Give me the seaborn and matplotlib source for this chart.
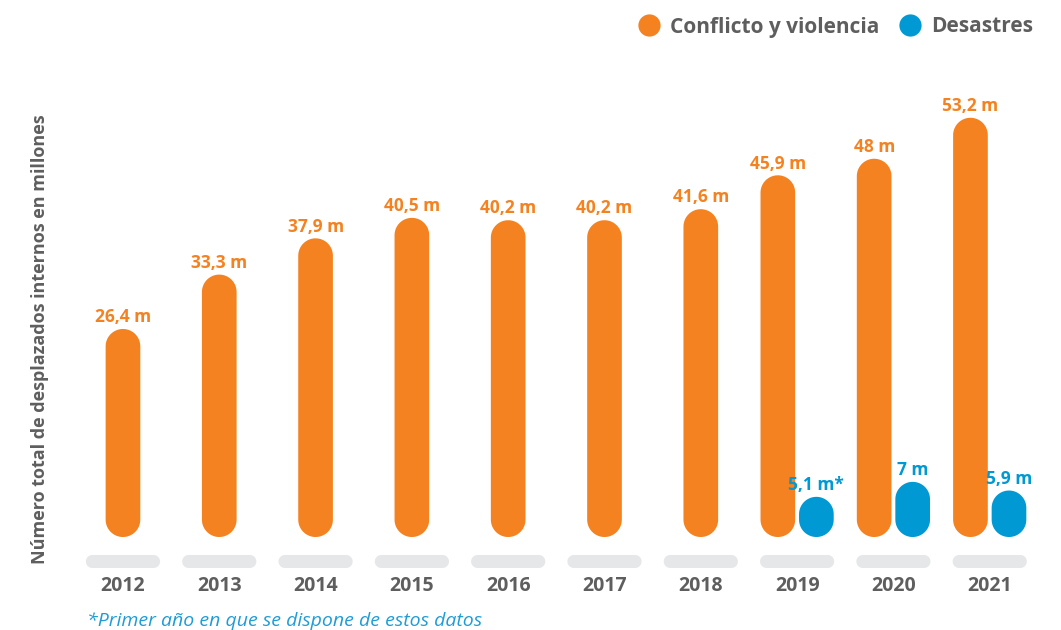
"""
Desplazados internos 2012-2021: rounded "pill" bars drawn with seaborn
"""
import numpy as np
import pandas as pd
import matplotlib
matplotlib.use("Agg")
import matplotlib.pyplot as plt
from matplotlib.patches import Polygon
from matplotlib.lines import Line2D
from matplotlib.colors import to_rgb
import seaborn as sns

# --- data -------------------------------------------------------------
years = ["2012", "2013", "2014", "2015", "2016", "2017", "2018", "2019", "2020", "2021"]
conflict = [26.4, 33.3, 37.9, 40.5, 40.2, 40.2, 41.6, 45.9, 48.0, 53.2]
disasters = [np.nan] * 7 + [5.1, 7.0, 5.9]
disaster_marks = [""] * 7 + ["*", "", ""]
series_names = ["Conflicto y violencia", "Desastres"]

ylabel = "Número total de desplazados internos en millones"
footnote = "*Primer año en que se dispone de estos datos"

# --- style ------------------------------------------------------------
ORANGE = "#F58220"
BLUE = "#0099D3"
TXT = "#5E5E5E"
PILL = "#E6E7E8"

sns.set_theme(style="white")
plt.rcParams["font.family"] = ["Open Sans", "Lato", "DejaVu Sans"]


def fmt(v):
    return f"{v:g}".replace(".", ",") + " m"


def pill_patch(x, y, w, h, aspect, vertical=True, **kw):
    # stadium shape in data coords; aspect = (px per x unit) / (px per y unit)
    t = np.linspace(0, np.pi, 40)
    if vertical:
        rx = w / 2
        ry = rx * aspect
        cx = x + rx
        top = np.column_stack([cx + rx * np.cos(t), y + h - ry + ry * np.sin(t)])
        bot = np.column_stack([cx - rx * np.cos(t), y + ry - ry * np.sin(t)])
        pts = np.vstack([top, bot])
    else:
        ry = h / 2
        rx = ry / aspect
        cy = y + ry
        right = np.column_stack([x + w - rx + rx * np.sin(t), cy + ry * np.cos(t)])
        left = np.column_stack([x + rx - rx * np.sin(t), cy - ry * np.cos(t)])
        pts = np.vstack([right, left])
    return Polygon(pts, closed=True, ec="none", **kw)


df = pd.concat([
    pd.DataFrame({"year": years, "series": series_names[0], "value": conflict}),
    pd.DataFrame({"year": years, "series": series_names[1], "value": disasters}),
]).dropna(subset=["value"])

fig = plt.figure(figsize=(10.61, 6.3), dpi=100)
ax = fig.add_axes([75 / 1061, 55 / 630, 965 / 1061, 515 / 630])

sns.barplot(data=df, x="year", y="value", hue="series", order=years,
            hue_order=series_names, palette=[ORANGE, BLUE], saturation=1,
            width=0.8, gap=0.1, dodge=True, errorbar=None, legend=False, ax=ax)

ax.set_xlim(-0.498, 9.522)
ax.set_ylim(-4.82, 60.53)

# pixels per data unit, used to keep the rounded ends circular
p0 = ax.transData.transform((0, 0))
p1 = ax.transData.transform((1, 1))
aspect = (p1[0] - p0[0]) / (p1[1] - p0[1])

# swap the rectangles for pills
for p in list(ax.patches):
    x, w, h = p.get_x(), p.get_width(), p.get_height()
    idx = int(round(x + w / 2))
    is_orange = np.allclose(p.get_facecolor()[:3], to_rgb(ORANGE), atol=0.02)
    if is_orange and np.isnan(disasters[idx]):
        x = idx - w / 2  # no second series this year: centre the bar
    color = ORANGE if is_orange else BLUE
    ax.add_patch(pill_patch(x, 0, w, h, aspect, fc=color, zorder=2))
    p.remove()

    label = fmt(h) + ("" if is_orange else disaster_marks[idx])
    ax.annotate(label, (x + w / 2, h), xytext=(0, 2), textcoords="offset points",
                ha="center", va="bottom", color=color, fontsize=12.5, fontweight="bold")

# grey pills under each year
pw, ph, py = 0.77, 1.65, -3.93
for i in range(len(years)):
    ax.add_patch(pill_patch(i - pw / 2, py, pw, ph, aspect, vertical=False, fc=PILL, zorder=1))

ax.set_xticks(range(len(years)))
ax.set_xticklabels(years, fontsize=14, fontweight="bold", color=TXT)
ax.tick_params(axis="x", length=0, pad=1)
ax.set_yticks([])
ax.set_xlabel("")
ax.set_ylabel("")
for spine in ax.spines.values():
    spine.set_visible(False)
ax.patch.set_alpha(0)

fig.text(40 / 1061, 1 - 339 / 630, ylabel, rotation=90, ha="center", va="center",
         fontsize=13, fontweight="bold", color=TXT)
fig.text(87 / 1061, 1 - 621 / 630, footnote, ha="left", va="center",
         fontsize=14, style="italic", color="#1E9CD7")

handles = [Line2D([], [], marker="o", ls="", ms=16, mfc=c, mec="none") for c in (ORANGE, BLUE)]
leg = fig.legend(handles, series_names, loc="center right", ncol=2, frameon=False,
                 bbox_to_anchor=(1033 / 1061, 1 - 27 / 630), borderaxespad=0, borderpad=0,
                 handlelength=1.0, handletextpad=0.5, columnspacing=1.0,
                 prop={"size": 15, "weight": "bold"})
for t in leg.get_texts():
    t.set_color(TXT)

fig.savefig("out.png", dpi=100, facecolor="white")
